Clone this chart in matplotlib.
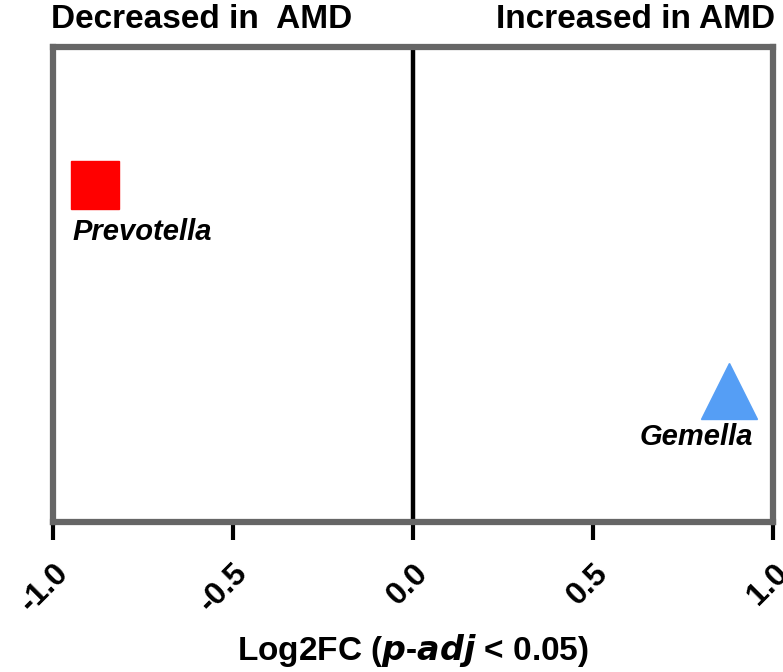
import matplotlib
matplotlib.use("Agg")
import matplotlib.pyplot as plt

# data
taxa = ["Prevotella", "Gemella"]
log2fc = [-0.883, 0.878]
ypos = [0.71, 0.275]
markers = ["s", "^"]
colors = ["#ff0000", "#559ef5"]
sizes = [35, 40]
ticks = [-1.0, -0.5, 0.0, 0.5, 1.0]

arial = ["Liberation Sans", "DejaVu Sans"]

fig = plt.figure(figsize=(7.83, 6.72), dpi=100)
ax = fig.add_axes([0.0677, 0.2232, 0.9193, 0.7068])

ax.axvline(0, color="black", lw=3.2, zorder=1)

for name, x, y, m, c, s in zip(taxa, log2fc, ypos, markers, colors, sizes):
    ax.plot(x, y, marker=m, color=c, markersize=s, linestyle="none", zorder=3)

ax.text(-0.947, 0.61, "Prevotella", fontsize=21, fontweight="bold", style="italic",
        family=arial, ha="left", va="center")
ax.text(0.945, 0.178, "Gemella", fontsize=21, fontweight="bold", style="italic",
        family=arial, ha="right", va="center")

ax.set_xlim(-1, 1)
ax.set_ylim(0, 1)
ax.set_yticks([])
ax.set_xticks(ticks)
ax.set_xticklabels([f"{t:.1f}" for t in ticks], rotation=45, ha="right", va="top",
                   rotation_mode="anchor", fontsize=23, fontweight="bold", family=arial)
ax.tick_params(axis="x", length=13, width=3, color="black", pad=13)

for sp in ax.spines.values():
    sp.set_color("#666666")
    sp.set_linewidth(4.5)

ax.text(-0.003, 1.025, "Decreased in  AMD", transform=ax.transAxes, ha="left", va="bottom",
        fontsize=24, fontweight="bold", family=arial)
ax.text(1.003, 1.025, "Increased in AMD", transform=ax.transAxes, ha="right", va="bottom",
        fontsize=24, fontweight="bold", family=arial)

ax.set_xlabel("Log2FC ($\\mathbfit{p}$-$\\mathbfit{adj}$ < 0.05)", fontsize=24,
              fontweight="bold", family=arial, labelpad=10)

fig.savefig("out.png", dpi=100)
